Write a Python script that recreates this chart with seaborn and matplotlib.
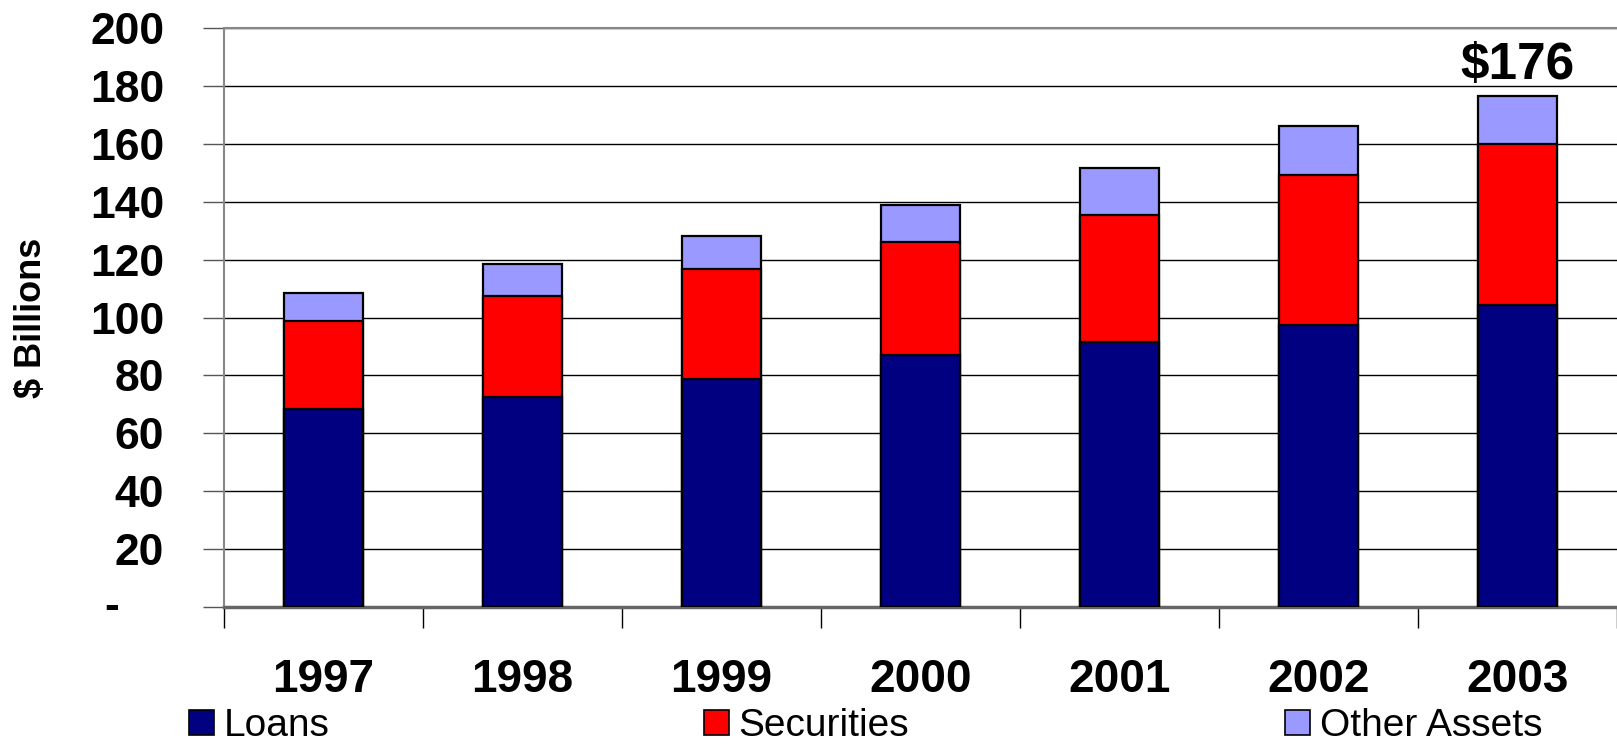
import numpy as np
import pandas as pd
import matplotlib
matplotlib.use("Agg")
import matplotlib.pyplot as plt
import matplotlib.transforms as mtransforms
from matplotlib.patches import Patch
import seaborn as sns

# values ($ billions)
years = ["1997", "1998", "1999", "2000", "2001", "2002", "2003"]
loans = [68.5, 72.7, 78.7, 87.2, 91.4, 97.4, 104.2]
securities = [30.4, 34.8, 37.9, 38.9, 44.1, 51.7, 55.8]
other_assets = [9.4, 11.1, 11.4, 12.8, 16.2, 16.9, 16.4]
series_names = ["Loans", "Securities", "Other Assets"]
series_colors = ["#000080", "#FF0000", "#9999FF"]
ytick_values = [0, 20, 40, 60, 80, 100, 120, 140, 160, 180, 200]

df = pd.DataFrame({"year": years, "loans": loans,
                   "securities": securities, "other": other_assets})
df["cum_sec"] = df["loans"] + df["securities"]
df["total"] = df["cum_sec"] + df["other"]

sns.set_style("white")
plt.rcParams["font.family"] = ["Liberation Sans", "DejaVu Sans"]
plt.rcParams["text.color"] = "black"
plt.rcParams["xtick.color"] = "black"
plt.rcParams["ytick.color"] = "black"

fig = plt.figure(figsize=(16.17, 7.44), dpi=100)
ax = fig.add_axes([224 / 1617, 137 / 744, 1 - 224 / 1617, 579 / 744])

# stacked bars: draw cumulative totals back to front
for col, color in zip(["total", "cum_sec", "loans"], series_colors[::-1]):
    sns.barplot(data=df, x="year", y=col, order=years, color=color,
                width=0.4, edgecolor="black", linewidth=1.6,
                saturation=1, ax=ax, zorder=3)

ax.set_xlim(-0.5, 6.5)
ax.set_ylim(0, 200)
ax.set_xlabel("")
ax.set_ylabel("")

# gridlines
ax.set_yticks(ytick_values)
ax.set_yticklabels([""] + [str(v) for v in ytick_values[1:]],
                   fontsize=32, fontweight="bold")
ax.yaxis.grid(True, color="black", linewidth=1)
ax.set_axisbelow(True)
ax.tick_params(axis="y", length=15, width=1, color="#555555", pad=28, direction="out", left=True)
trans = mtransforms.blended_transform_factory(ax.transAxes, ax.transData)
ax.text(-0.081, 0, "-", transform=trans, ha="center", va="center",
        fontsize=32, fontweight="bold")

# x: labels at centers, tick marks at category boundaries
ax.set_xticks(range(len(years)))
ax.set_xticklabels(years, fontsize=33, fontweight="bold")
ax.tick_params(axis="x", which="major", length=0, pad=37)
ax.set_xticks(np.arange(-0.5, len(years), 1.0), minor=True)
ax.tick_params(axis="x", which="minor", length=15, width=1, color="black",
               bottom=True, direction="out")

for side in ["top", "left"]:
    ax.spines[side].set_color("#888888")
    ax.spines[side].set_linewidth(1.5)
ax.spines["bottom"].set_color("#666666")
ax.spines["bottom"].set_linewidth(2.5)
ax.spines["right"].set_visible(False)

# total label on last bar
ax.text(6, df["total"].iloc[-1] + 10.5, f"${df['total'].iloc[-1]:.0f}",
        ha="center", va="center", fontsize=37, fontweight="bold")

fig.text(31 / 1617, 0.573, "$ Billions", rotation=90, ha="center", va="center",
         fontsize=26, fontweight="bold")

# legend entries spread along bottom
legend_x = [189 / 1617, 704 / 1617, 1285 / 1617]
for name, color, lx in zip(series_names, series_colors, legend_x):
    fig.legend(handles=[Patch(facecolor=color, edgecolor="black", linewidth=1.2, label=name)],
               loc="center left", bbox_to_anchor=(lx, 0.024), frameon=False,
               fontsize=28, handlelength=0.64, handleheight=0.64,
               handletextpad=0.25, borderpad=0, borderaxespad=0)

fig.savefig("out.png", dpi=100)
